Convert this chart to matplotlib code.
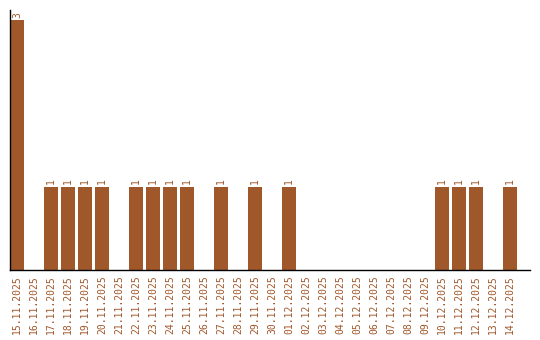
import matplotlib
matplotlib.use("Agg")
import matplotlib.pyplot as plt

days = ["15.11.2025", "16.11.2025", "17.11.2025", "18.11.2025", "19.11.2025",
        "20.11.2025", "21.11.2025", "22.11.2025", "23.11.2025", "24.11.2025",
        "25.11.2025", "26.11.2025", "27.11.2025", "28.11.2025", "29.11.2025",
        "30.11.2025", "01.12.2025", "02.12.2025", "03.12.2025", "04.12.2025",
        "05.12.2025", "06.12.2025", "07.12.2025", "08.12.2025", "09.12.2025",
        "10.12.2025", "11.12.2025", "12.12.2025", "13.12.2025", "14.12.2025"]
counts = [3, 0, 1, 1, 1, 1, 0, 1, 1, 1, 1, 0, 1, 0, 1, 0, 1, 0, 0, 0,
          0, 0, 0, 0, 0, 1, 1, 1, 0, 1]

col = "#a0572a"

fig = plt.figure(figsize=(5.4, 3.4), dpi=100)
ax = fig.add_axes([10/540, 70/340, 520/540, 260/340])
x = range(len(days))
ax.bar(x, counts, width=0.82, color=col)
for i, c in enumerate(counts):
    if c:
        ax.text(i, c + 0.03, str(c), rotation=90, ha="center", va="bottom",
                color=col, fontsize=7, family="DejaVu Sans Mono")

ax.set_xlim(-0.41, 30.18)
ax.set_ylim(0, 3.12)
ax.set_xticks(list(x))
ax.set_xticklabels(days, rotation=90, fontsize=7, color=col, family="DejaVu Sans Mono")
ax.tick_params(axis="x", length=0, pad=4)
ax.set_yticks([])
for s in ["top", "right"]:
    ax.spines[s].set_visible(False)
ax.spines["left"].set_linewidth(1)
ax.spines["bottom"].set_linewidth(1)

fig.savefig("out.png", dpi=100)
